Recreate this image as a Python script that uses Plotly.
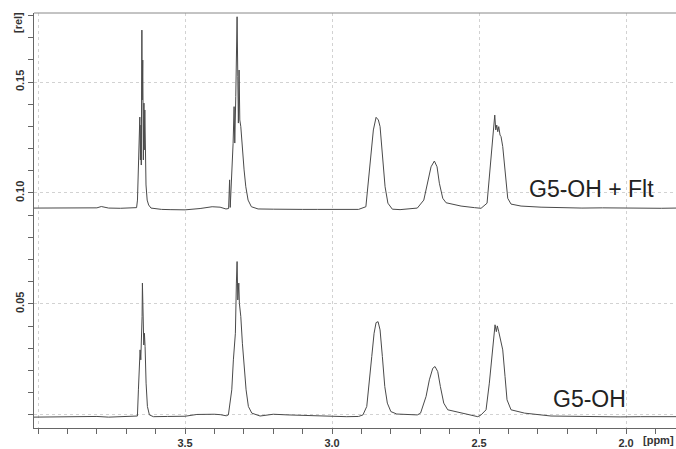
import plotly.graph_objects as go

# ---- data (ppm, intensity [rel]) ----
flt_ppm = [4.014, 3.96, 3.92, 3.88, 3.84, 3.80, 3.785, 3.775, 3.76, 3.72, 3.69, 3.665,
           3.662, 3.658, 3.655, 3.654, 3.652, 3.650, 3.649, 3.647, 3.646, 3.644, 3.642,
           3.640, 3.639, 3.637, 3.635, 3.633, 3.629, 3.624, 3.616,
           3.58, 3.551, 3.50, 3.449, 3.408, 3.381, 3.361, 3.352, 3.3486, 3.3465,
           3.3446, 3.3367, 3.3333, 3.3310, 3.3276, 3.3255, 3.3231, 3.3207, 3.3187, 3.3163,
           3.3139, 3.3105, 3.3051, 3.2993, 3.2935, 3.2857, 3.2745, 3.2517,
           3.20, 3.15, 3.10, 3.05, 3.00, 2.95, 2.91,
           2.885, 2.8707, 2.8595, 2.8503, 2.8425, 2.8367, 2.8289, 2.8197, 2.8100, 2.7950,
           2.7687, 2.74, 2.71,
           2.688, 2.6745, 2.6633, 2.652, 2.6429, 2.635, 2.6235, 2.6122, 2.5952, 2.5612,
           2.516, 2.4932,
           2.4728, 2.465, 2.4592, 2.4536, 2.4500, 2.4466, 2.4432, 2.4398, 2.4364, 2.4330,
           2.4286, 2.4252, 2.4194, 2.4140, 2.4082, 2.4024, 2.3912, 2.3571, 2.2891,
           2.22, 2.15, 2.08, 2.00, 1.94, 1.88, 1.83]
flt_int = [0.0932, 0.0933, 0.0931, 0.0934, 0.0932, 0.0933, 0.0939, 0.0936, 0.0932, 0.0931, 0.0933, 0.0934,
           0.0968, 0.1194, 0.1270, 0.1342, 0.1149, 0.1306, 0.1126, 0.1734, 0.1419, 0.1599, 0.1149,
           0.1405, 0.1194, 0.1374, 0.1126, 0.1036, 0.0968, 0.0946, 0.0932,
           0.0926, 0.0925, 0.0924, 0.0930, 0.0938, 0.0936, 0.0928, 0.0930, 0.1059, 0.0935,
           0.0983, 0.1224, 0.1389, 0.1225, 0.1434, 0.1779, 0.1794, 0.1524, 0.1315, 0.1554,
           0.1329, 0.1299, 0.1194, 0.1104, 0.1028, 0.0968, 0.0938, 0.0928,
           0.0927, 0.0928, 0.0926, 0.0926, 0.0925, 0.0924, 0.0926,
           0.0938, 0.1118, 0.1284, 0.1341, 0.1329, 0.1299, 0.1179, 0.1028, 0.0954, 0.0927,
           0.0925, 0.0928, 0.0932,
           0.0968, 0.1045, 0.1118, 0.1144, 0.1118, 0.1044, 0.0976, 0.0956, 0.0950, 0.0941,
           0.0934, 0.0931,
           0.0954, 0.1073, 0.1179, 0.1239, 0.1314, 0.1351, 0.1284, 0.1306, 0.1276, 0.1299,
           0.1261, 0.1254, 0.1209, 0.1134, 0.1044, 0.0976, 0.0950, 0.0941, 0.0936,
           0.0933, 0.0932, 0.0933, 0.0931, 0.0932, 0.0931, 0.0932]

oh_ppm = [4.014, 3.96, 3.92, 3.88, 3.84, 3.80, 3.76, 3.72, 3.69, 3.6622,
          3.6588, 3.6554, 3.6531, 3.6507, 3.6486, 3.6463, 3.6452, 3.6429, 3.6405, 3.6384,
          3.6361, 3.6327, 3.6282, 3.6214, 3.6078,
          3.56, 3.50, 3.46, 3.43, 3.40, 3.38, 3.36,
          3.3527, 3.3412, 3.3357, 3.3323, 3.3289, 3.3255, 3.3231, 3.3207, 3.3173, 3.3153,
          3.3105, 3.3051, 3.2993, 3.2925, 3.2847, 3.2731, 3.2449,
          3.22, 3.20, 3.15, 3.10, 3.05, 3.00, 2.95, 2.91,
          2.8950, 2.8820, 2.8731, 2.8650, 2.8571, 2.8503, 2.8435, 2.8367, 2.8289, 2.8207,
          2.8120, 2.8000, 2.7799, 2.74, 2.71,
          2.6990, 2.6803, 2.6690, 2.6575, 2.6497, 2.6405, 2.6316, 2.6201, 2.6065, 2.5724,
          2.5384, 2.5044,
          2.4932, 2.4762, 2.4650, 2.4568, 2.4500, 2.4456, 2.4412, 2.4378, 2.4330, 2.4276,
          2.4194, 2.4116, 2.4048, 2.3912, 2.3449, 2.2551,
          2.18, 2.10, 2.02, 1.95, 1.88, 1.83]
oh_int = [-0.0010, -0.0009, -0.0011, -0.0008, -0.0010, -0.0007, -0.0010, -0.0009, -0.0008, -0.0005,
          0.0113, 0.0233, 0.0293, 0.0248, 0.0338, 0.0443, 0.0594, 0.0473, 0.0315, 0.0368,
          0.0308, 0.0143, 0.0038, 0.0000, -0.0008,
          -0.0007, -0.0006, 0.0002, 0.0004, 0.0003, 0.0001, -0.0004,
          0.0000, 0.0113, 0.0248, 0.0338, 0.0368, 0.0594, 0.0691, 0.0518, 0.0594, 0.0503,
          0.0443, 0.0323, 0.0218, 0.0113, 0.0038, 0.0008, -0.0005,
          0.0000, 0.0003, 0.0000, -0.0002, -0.0005, -0.0007, -0.0008, -0.0007,
          0.0000, 0.0038, 0.0143, 0.0263, 0.0368, 0.0416, 0.0420, 0.0383, 0.0263, 0.0128,
          0.0053, 0.0015, 0.0004, 0.0001, 0.0000,
          0.0008, 0.0083, 0.0158, 0.0210, 0.0218, 0.0195, 0.0128, 0.0053, 0.0023, 0.0013,
          0.0004, -0.0008,
          0.0000, 0.0023, 0.0143, 0.0263, 0.0375, 0.0406, 0.0375, 0.0401, 0.0375, 0.0345,
          0.0293, 0.0173, 0.0068, 0.0023, 0.0008, -0.0005,
          -0.0007, -0.0008, -0.0009, -0.0008, -0.0009, -0.0008]

x_tick_vals = [4.0, 3.5, 3.0, 2.5, 2.0]
x_tick_text = ["", "3.5", "3.0", "2.5", "2.0"]
y_tick_vals = [0.0, 0.05, 0.10, 0.15]
y_tick_text = ["", "0.05", "0.10", "0.15"]
series_labels = ["G5-OH + Flt", "G5-OH"]

line_col = "#4a4a4a"
axis_font = dict(family="Liberation Sans Narrow, Liberation Sans, Arial", size=11,
                 color="#333333", weight="bold")

fig = go.Figure()
fig.add_trace(go.Scatter(x=flt_ppm, y=flt_int, mode="lines",
                         line=dict(color=line_col, width=1), showlegend=False))
fig.add_trace(go.Scatter(x=oh_ppm, y=oh_int, mode="lines",
                         line=dict(color=line_col, width=1), showlegend=False))

fig.update_layout(
    width=676, height=449,
    margin=dict(l=34, r=0, t=13, b=21),
    paper_bgcolor="white", plot_bgcolor="white",
    xaxis=dict(range=[4.014, 1.83], tickvals=x_tick_vals, ticktext=x_tick_text,
               ticks="outside", ticklen=5, tickcolor="#666", tickwidth=1,
               showline=True, linecolor="#666", linewidth=1,
               showgrid=True, gridcolor="#d2d2d2", griddash="dot", gridwidth=1,
               zeroline=False, tickfont=axis_font,
               minor=dict(dtick=0.1, tick0=0, ticks="outside", ticklen=5,
                          tickcolor="#666", showgrid=False)),
    yaxis=dict(range=[-0.0059, 0.1811], tickvals=y_tick_vals, ticktext=y_tick_text,
               ticks="outside", ticklen=5, tickcolor="#666", tickwidth=1,
               showline=True, linecolor="#666", linewidth=1,
               showgrid=True, gridcolor="#d2d2d2", griddash="dot", gridwidth=1,
               zeroline=False, tickangle=-90, tickfont=axis_font,
               minor=dict(dtick=0.01, tick0=0, ticks="outside", ticklen=5,
                          tickcolor="#666", showgrid=False)),
)

# top frame line
fig.add_shape(type="line", xref="paper", yref="paper", x0=0, x1=1, y0=1, y1=1,
              line=dict(color="#888", width=1))

# unit labels
fig.add_annotation(text="[ppm]", xref="paper", yref="paper", x=1.0, y=0, yshift=-12,
                   xanchor="right", yanchor="middle", showarrow=False, font=axis_font)
fig.add_annotation(text="[rel]", xref="paper", yref="paper", x=0, xshift=-16, y=1, yshift=-10,
                   textangle=-90, xanchor="center", yanchor="middle", showarrow=False,
                   font=axis_font)

# series labels
lab_font = dict(family="Liberation Sans, Arial", size=23, color="#222222")
fig.add_annotation(text=series_labels[0], x=2.118, y=0.1018, showarrow=False,
                   xanchor="center", yanchor="middle", font=lab_font)
fig.add_annotation(text=series_labels[1], x=2.125, y=0.0072, showarrow=False,
                   xanchor="center", yanchor="middle", font=lab_font)

fig.write_html("out.html")
